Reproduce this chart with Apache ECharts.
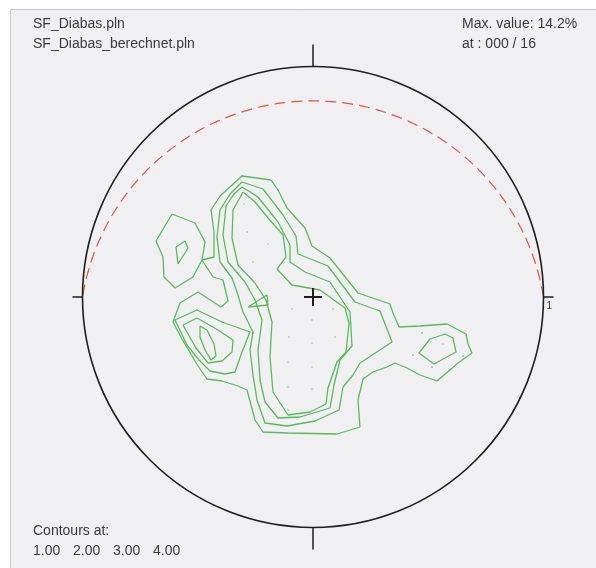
<!DOCTYPE html>
<html><head><meta charset="utf-8">
<script src="https://cdn.jsdelivr.net/npm/echarts@6/dist/echarts.min.js"></script>
<style>html,body{margin:0;padding:0;background:#fff}#c{width:596px;height:568px}</style>
</head><body><div id="c"></div>
<script>
// ---- data (plot units: origin at net centre, east +x, north +y, primitive radius R) ----
const R = 230.5;
const headerLeft = ['SF_Diabas.pln', 'SF_Diabas_berechnet.pln'];
const headerRight = ['Max. value: 14.2%', 'at : 000 / 16'];
const contourTitle = 'Contours at:';
const contourLevels = ['1.00', '2.00', '3.00', '4.00'];
const eastLabel = '1';
const greatCircleDip = 9.2; // degrees, dip direction north

// contour polylines (closed)
const westIsland1 = [[-141,83],[-118,74],[-108,55],[-111,37],[-120,20],[-138,9],[-149,20],[-150,40],[-157,56]];
const westIsland2 = [[-137,50],[-128,56],[-125,49],[-135,33]];
const smallIsland = [[-65,-10],[-46,2],[-45,-8]];
const eastLobe2 = [[117,-42],[132,-37],[140,-41],[143,-55],[121,-67],[106,-56]];
const swLobe2 = [[-138,-23],[-116,-13],[-91,-25],[-63,-35],[-71,-55],[-78,-75],[-88,-77],[-103,-74],[-114,-63],[-126,-48]];
const swLobe3 = [[-130,-28],[-116,-21],[-95,-33],[-80,-43],[-81,-55],[-91,-64],[-105,-66],[-117,-51]];
const swLobe4 = [[-113,-29],[-106,-33],[-99,-47],[-97,-59],[-102,-63],[-108,-53],[-113,-40]];
const main1 = [[-99,40],[-99,65],[-102,87],[-93,101],[-71,121],[-42,117],[-35,107],[-26,89],[-8,69],[-1,51],[17,39],[45,4],[77,-7],[80,-16],[86,-30],[107,-29],[134,-27],[153,-37],[155,-47],[159,-56],[145,-66],[124,-84],[107,-78],[94,-71],[82,-66],[74,-70],[60,-75],[50,-82],[45,-103],[47,-130],[24,-137],[-25,-136],[-50,-135],[-58,-123],[-66,-93],[-75,-89],[-91,-84],[-106,-82],[-115,-69],[-131,-42],[-140,-25],[-133,-6],[-115,5],[-92,-10],[-85,-4],[-90,17],[-100,20],[-111,37]];
const main2 = [[-71,115],[-50,108],[-30,82],[-17,61],[-15,43],[15,31],[42,-5],[67,-14],[79,-45],[47,-66],[40,-78],[30,-90],[26,-113],[2,-124],[-26,-129],[-48,-126],[-56,-103],[-60,-78],[-63,-53],[-60,-35],[-70,-15],[-76,5],[-81,19],[-93,35],[-96,60],[-93,87],[-83,103]];
const main3 = [[-71,110],[-55,100],[-35,75],[-23,52],[-23,35],[-8,25],[17,15],[37,-15],[39,-49],[27,-63],[21,-88],[17,-111],[-13,-120],[-35,-121],[-48,-105],[-53,-83],[-55,-53],[-51,-23],[-58,-3],[-68,15],[-85,35],[-90,62],[-87,91],[-79,103]];
const main4 = [[-70,105],[-58,95],[-45,79],[-30,62],[-27,40],[-36,28],[-21,12],[7,7],[32,-11],[36,-26],[33,-55],[24,-65],[15,-91],[13,-107],[-3,-115],[-25,-118],[-40,-95],[-43,-60],[-41,-25],[-47,-3],[-58,14],[-75,32],[-81,59],[-80,87]];

// counting-grid points / poles
const polesGreen = [[-21,-12],[-1,-23],[20,-12],[-24,-40],[-1,-46],[22,-40],[-25,-65],[-1,-70],[-25,-90],[-1,-92],[-25,-113],[-69,93],[-66,65],[-45,53],[-60,35],[130,-47]];
const polesBlue = [[109,-36],[100,-58],[150,-59],[119,-70],[-60,-36],[-116,-13],[-138,-23],[-91,-25],[-71,121],[-35,107]];

// ---- chart ----
const close = a => a.concat([a[0]]);
const contourSets = [westIsland1, westIsland2, smallIsland, eastLobe2, swLobe2, swLobe3, swLobe4, main1, main2, main3, main4];

function greatCircle(dipDeg) {
  const d = dipDeg * Math.PI / 180;
  const cy = -R * Math.tan(d), rr = R / Math.cos(d);
  const a0 = Math.atan2(-cy, R);
  const pts = [];
  const n = 180;
  for (let i = 0; i <= n; i++) {
    const t = a0 + (Math.PI - 2 * a0) * i / n;
    pts.push([rr * Math.cos(t), cy + rr * Math.sin(t)]);
  }
  return pts;
}

const chart = echarts.init(document.getElementById('c'), null, {renderer: 'canvas'});
const FONT = '"Liberation Sans", Arial, sans-serif';
const TXT = '#3a3a3a';

const series = [];
contourSets.forEach(s => series.push({
  type: 'line', data: close(s), showSymbol: false, silent: true, animation: false,
  lineStyle: {color: '#5cb85a', width: 1.3}, z: 3
}));
series.push({
  type: 'line', data: greatCircle(greatCircleDip), showSymbol: false, silent: true, animation: false,
  lineStyle: {color: '#e3524c', width: 1.2, type: [11, 6]}, z: 2
});
series.push({type: 'scatter', data: polesGreen, symbolSize: 2, itemStyle: {color: '#a9cf96'}, silent: true, animation: false, z: 2});
series.push({type: 'scatter', data: polesBlue, symbolSize: 2, itemStyle: {color: '#9a9ad6'}, silent: true, animation: false, z: 2});
series.push({
  type: 'custom', data: [[0, 0]], silent: true, animation: false, z: 4,
  renderItem: function (params, api) {
    const c = api.coord([0, 0]);
    const e = api.coord([R, 0]);
    const r = e[0] - c[0];
    const ls = {stroke: '#1e1e1e', lineWidth: 1.5};
    return {type: 'group', children: [
      {type: 'circle', shape: {cx: c[0], cy: c[1], r: r}, style: {fill: null, stroke: '#1e1e1e', lineWidth: 1.6}},
      {type: 'line', shape: {x1: c[0], y1: c[1] - r - 22, x2: c[0], y2: c[1] - r}, style: ls},
      {type: 'line', shape: {x1: c[0], y1: c[1] + r, x2: c[0], y2: c[1] + r + 22}, style: ls},
      {type: 'line', shape: {x1: c[0] - r - 10, y1: c[1], x2: c[0] - r, y2: c[1]}, style: ls},
      {type: 'line', shape: {x1: c[0] + r, y1: c[1], x2: c[0] + r + 10, y2: c[1]}, style: ls},
      {type: 'line', shape: {x1: c[0] - 9, y1: c[1], x2: c[0] + 9, y2: c[1]}, style: {stroke: '#1e1e1e', lineWidth: 2}},
      {type: 'line', shape: {x1: c[0], y1: c[1] - 9, x2: c[0], y2: c[1] + 9}, style: {stroke: '#1e1e1e', lineWidth: 2}},
      {type: 'text', x: c[0] + r + 3, y: c[1] + 4, style: {text: eastLabel, fill: '#333', font: '10px ' + FONT, textVerticalAlign: 'top'}}
    ]};
  }
});

const graphics = [
  {type: 'rect', shape: {x: 10.5, y: 9.5, width: 700, height: 700}, style: {fill: '#f0f0f3', stroke: '#c9c9cc', lineWidth: 1}, z: -10, silent: true}
];
headerLeft.forEach((t, i) => graphics.push({type: 'text', left: 33, top: 17 + i * 20, style: {text: t, fill: TXT, font: '14px ' + FONT}, silent: true}));
headerRight.forEach((t, i) => graphics.push({type: 'text', left: 462, top: 17 + i * 20, style: {text: t, fill: TXT, font: '14px ' + FONT}, silent: true}));
graphics.push({type: 'text', left: 33, top: 524, style: {text: contourTitle, fill: TXT, font: '14px ' + FONT}, silent: true});
contourLevels.forEach((t, i) => graphics.push({type: 'text', left: 33 + i * 40, top: 544, style: {text: t, fill: TXT, font: '14px ' + FONT}, silent: true}));

chart.setOption({
  backgroundColor: '#ffffff',
  animation: false,
  grid: {left: 313 - R, top: 297 - R, width: 2 * R, height: 2 * R},
  xAxis: {type: 'value', min: -R, max: R, show: false},
  yAxis: {type: 'value', min: -R, max: R, show: false},
  graphic: graphics,
  series: series
});
</script></body></html>
